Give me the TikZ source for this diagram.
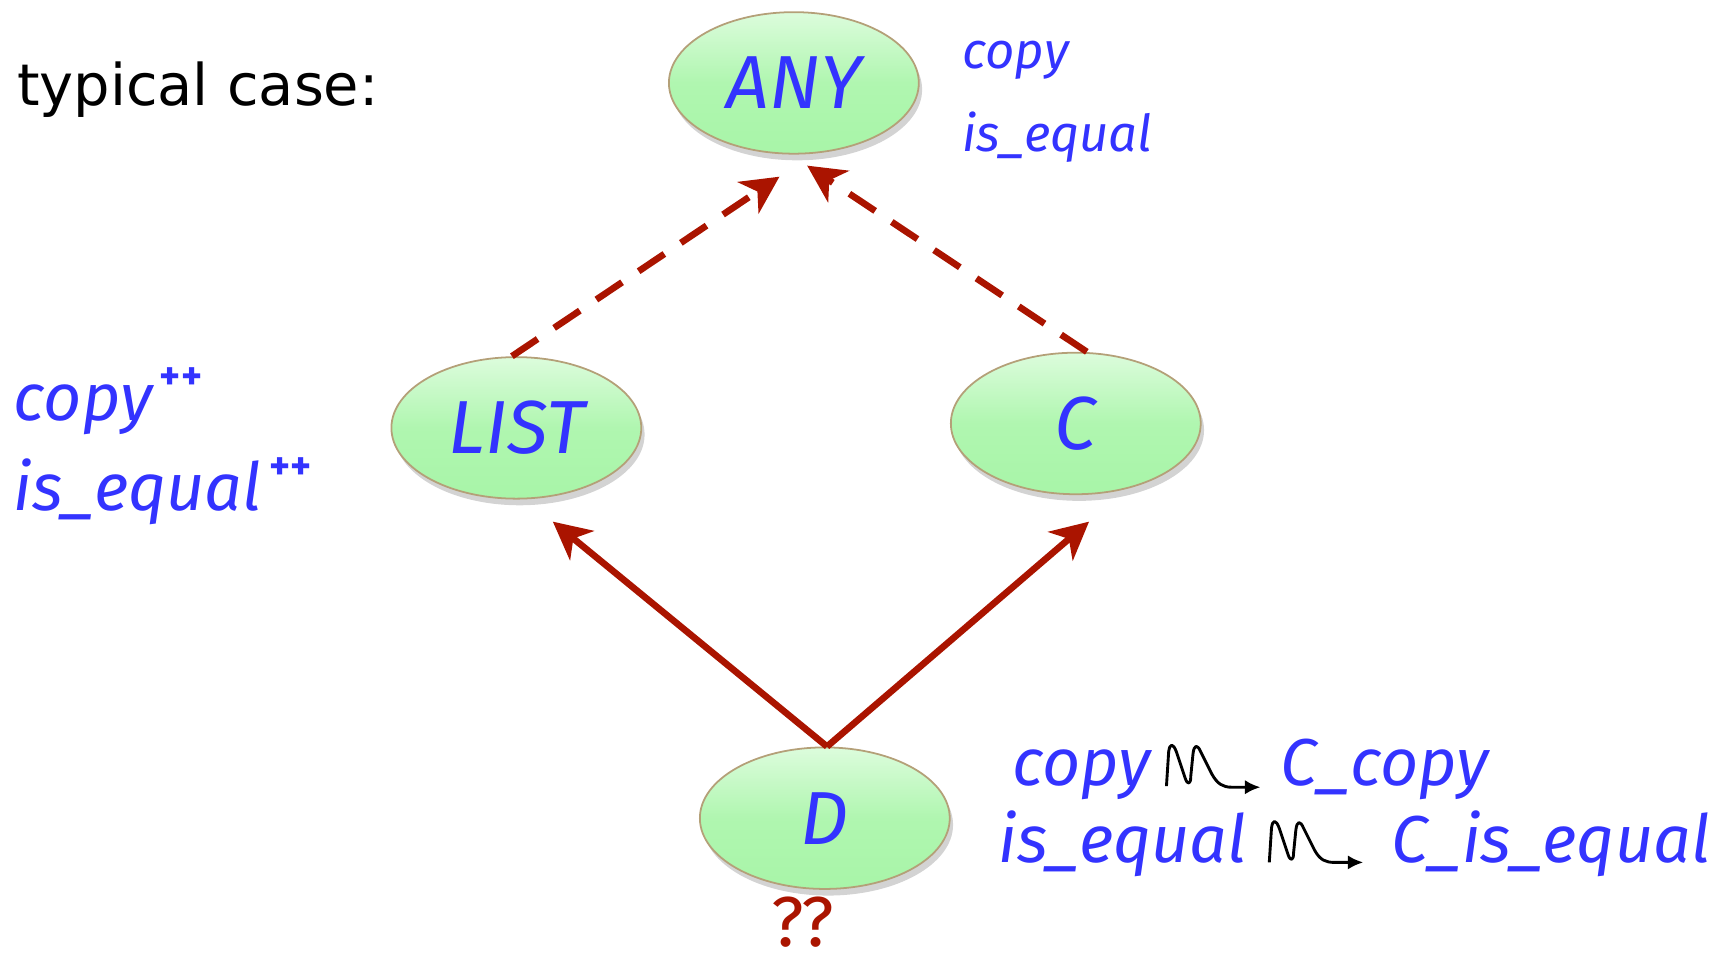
\documentclass[tikz,border=0pt]{standalone}
\usepackage{fontspec}
\setmainfont{DejaVu Sans}
\newfontfamily\handfont{Fira Sans}
\usetikzlibrary{arrows.meta,shadows,shapes.geometric}
\definecolor{txtblue}{RGB}{51,51,255}
\definecolor{arrred}{RGB}{170,20,0}
\definecolor{nodegreen}{RGB}{168,245,168}
\definecolor{nodelight}{RGB}{220,252,220}
\definecolor{nodeborder}{RGB}{180,160,120}
\tikzset{
  cls/.style={ellipse, minimum width=113pt, minimum height=64pt, draw=nodeborder, line width=0.8pt,
    top color=nodelight, bottom color=nodegreen, middle color=nodegreen!85!nodelight,
    drop shadow={shadow xshift=1.5pt, shadow yshift=-3pt, opacity=0.35},
    font=\handfont\itshape\fontsize{34}{40}\selectfont, text=txtblue},
  feat/.style={font=\handfont\itshape\fontsize{23}{28}\selectfont, text=txtblue, inner sep=0pt},
  bigfeat/.style={font=\handfont\itshape\fontsize{30}{36}\selectfont, text=txtblue, inner sep=0pt},
  plusplus/.style={font=\handfont\bfseries\fontsize{18}{20}\selectfont, text=txtblue, inner sep=0pt},
  inh/.style={draw=arrred, line width=3pt, -{Stealth[length=17pt,width=17pt,inset=5pt]}},
  inhdash/.style={inh, dash pattern=on 14pt off 9pt},
  squig/.style={draw=black, line width=1.3pt, line join=round, -{Latex[length=7pt,width=6.5pt]}}
}
\begin{document}
\begin{tikzpicture}[x=0.5pt,y=-0.5pt]
\useasboundingbox (0,0) rectangle (1562,877);
\node[anchor=base west, inner sep=0pt, font=\fontsize{26}{30}\selectfont] (title) at (15,95) {typical case:};

\node[cls] (ANY) at (718,75) {ANY};
\node[cls] (LIST) at (467,387) {LIST};
\node[cls] (C) at (973,383) {C};
\node[cls] (D) at (746,740) {D};

\node[feat, anchor=base west] (fa1) at (870,62) {copy};
\node[feat, anchor=base west] (fa2) at (870,137) {is\_equal};

\node[bigfeat, anchor=base west] (fl1) at (12,380) {copy};
\node[plusplus, anchor=base west] (fl1p) at ([xshift=3pt,yshift=14pt]fl1.base east) {++};
\node[bigfeat, anchor=base west] (fl2) at (12,462) {is\_equal};
\node[plusplus, anchor=base west] (fl2p) at ([xshift=3pt,yshift=14pt]fl2.base east) {++};

\node[bigfeat, anchor=base west] (fd1) at (915,710) {copy};
\node[bigfeat, anchor=base west] (fd1r) at (1158,710) {C\_copy};
\node[bigfeat, anchor=base west] (fd2) at (903,780) {is\_equal};
\node[bigfeat, anchor=base west] (fd2r) at (1258,780) {C\_is\_equal};

\node[anchor=base, inner sep=0pt, text=arrred, font=\handfont\fontsize{32}{38}\selectfont] (qq) at (726,856) {??};

\draw[inhdash] ([xshift=-2pt]LIST.north) -- ([xshift=-6.5pt,yshift=-10pt]ANY.south);
\draw[inhdash] ([xshift=5pt]C.north) -- ([xshift=6pt,yshift=-5pt]ANY.south);
\draw[inh] ([xshift=1pt]D.north) -- ([xshift=16.5pt,yshift=-10pt]LIST.south);
\draw[inh] ([xshift=1pt]D.north) -- ([xshift=6pt,yshift=-12pt]C.south);

\coordinate (s1) at (1055,711);
\coordinate (e1) at (1140,712);
\draw[squig] (s1) -- (1057,680) .. controls (1058,672) and (1061,672) .. (1064,680)
  -- (1072,704) .. controls (1074,710) and (1077,710) .. (1077,702)
  -- (1079,682) .. controls (1080,673) and (1083,673) .. (1086,680)
  -- (1096,700) .. controls (1101,709) and (1106,712) .. (1114,712) -- (e1);
\coordinate (s2) at (1148,780);
\coordinate (e2) at (1233,780);
\draw[squig] (s2) -- (1150,749) .. controls (1151,741) and (1154,741) .. (1157,749)
  -- (1165,773) .. controls (1167,779) and (1170,779) .. (1170,771)
  -- (1172,751) .. controls (1173,742) and (1176,742) .. (1179,749)
  -- (1189,769) .. controls (1194,778) and (1199,780) .. (1207,780) -- (e2);
\end{tikzpicture}
\end{document}
